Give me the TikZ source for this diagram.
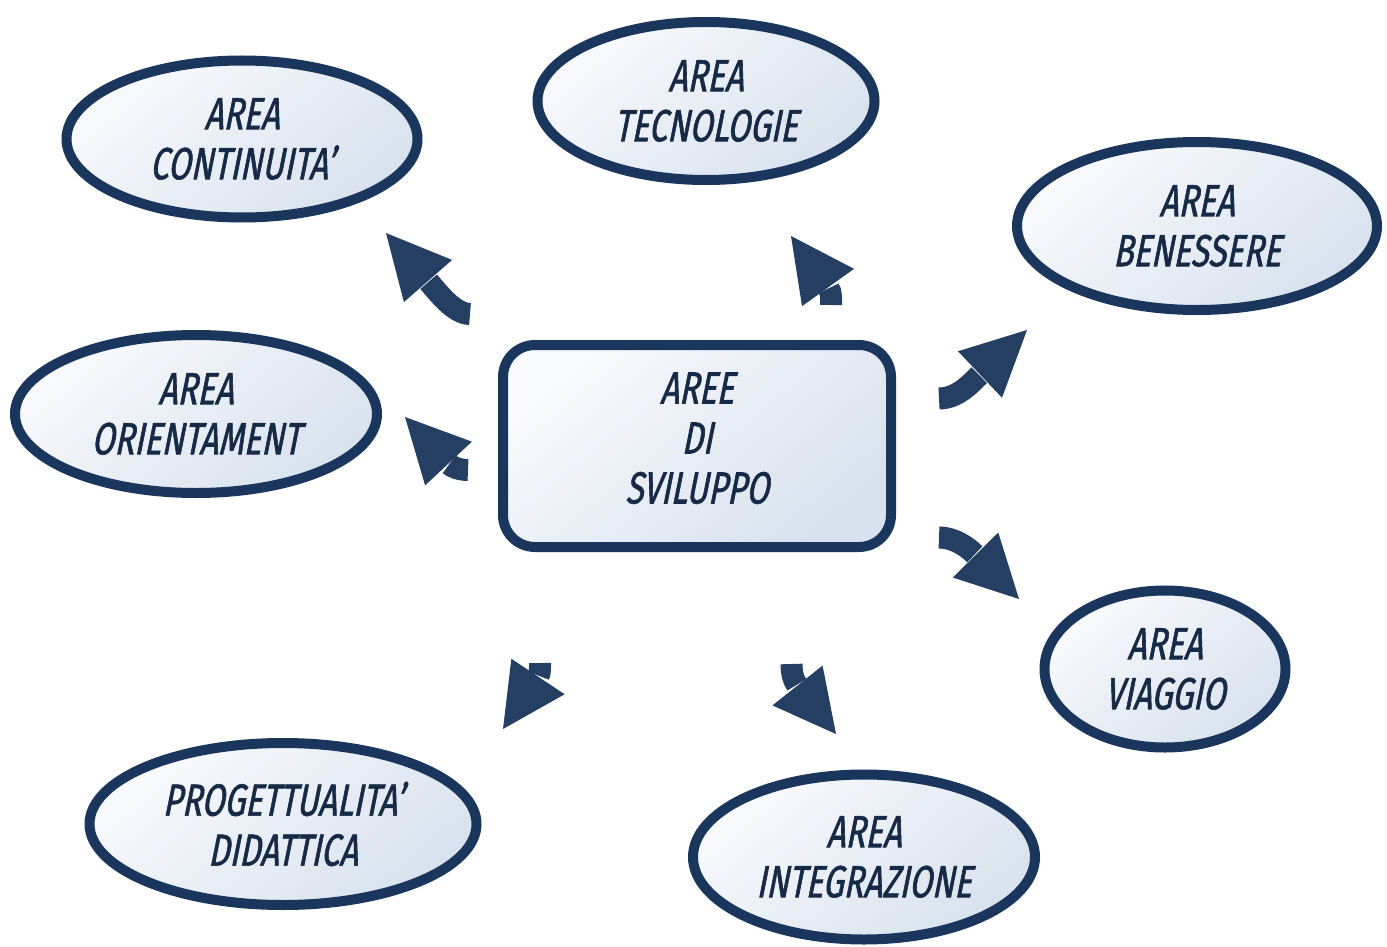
\documentclass[tikz,border=0pt]{standalone}
\usepackage{fontspec}
\usetikzlibrary{shapes.geometric,calc}
\newfontfamily\hand[FakeStretch=0.73,FakeSlant=0.2,FakeBold=1.3]{Fira Sans}
\definecolor{bordercol}{HTML}{1B365D}
\definecolor{arrowcol}{HTML}{243F61}
\definecolor{textcol}{HTML}{172A45}
\definecolor{filltop}{HTML}{F8FAFD}
\definecolor{fillbot}{HTML}{D8E1ED}
\tikzset{
  bubble/.style={ellipse, draw=bordercol, line width=10pt, top color=filltop, bottom color=fillbot, shading angle=40, align=center, text=textcol, font=\hand\fontsize{45}{50}\selectfont, inner sep=0pt},
  centerbox/.style={rectangle, rounded corners=32pt, draw=bordercol, line width=10pt, top color=filltop, bottom color=fillbot, shading angle=40, align=center, text=textcol, font=\hand\fontsize{45}{50}\selectfont, inner sep=0pt, minimum width=388pt, minimum height=202pt},
  arrowbody/.style={draw=arrowcol, line width=22pt},
  arrowhead/.style={fill=arrowcol}
}
% #1 start, #2 first control, #3 base centre, #4 tip, #5 back distance of 2nd control
\newcommand{\bentarrow}[5]{%
  \draw[arrowbody] (#1) .. controls (#2) and ($(#3)!-#5!(#4)$) .. ($(#3)!-1pt!(#4)$);
  \fill[arrowhead] ($(#3)!32pt!90:(#4)$) -- (#4) -- ($(#3)!32pt!-90:(#4)$) -- cycle;}
\begin{document}
\begin{tikzpicture}[x=1pt,y=-1pt]
\useasboundingbox (0,0) rectangle (1387,947);

\node[bubble, minimum width=351pt, minimum height=157pt] (cont) at (242,139) {AREA\\CONTINUITA’};
\node[bubble, minimum width=337pt, minimum height=158pt] (tecn) at (706,101) {AREA\\TECNOLOGIE};
\node[bubble, minimum width=360pt, minimum height=168pt] (ben) at (1197,226) {AREA\\BENESSERE};
\node[bubble, minimum width=362pt, minimum height=158pt] (orient) at (196,414) {AREA\\ORIENTAMENT};
\node[bubble, minimum width=241pt, minimum height=157pt] (viag) at (1165,669) {AREA\\VIAGGIO};
\node[bubble, minimum width=387pt, minimum height=162pt] (prog) at (283,824) {PROGETTUALITA’\\DIDATTICA};
\node[bubble, minimum width=342pt, minimum height=165pt] (integ) at (864,857) {AREA\\INTEGRAZIONE};

\node[centerbox] (center) at (697,446) {AREE\\DI\\SVILUPPO\rule[-16pt]{0pt}{1pt}};

% arrows: start, first control, head base, tip
\coordinate (s1) at (470,314); \coordinate (c1) at (454,314); \coordinate (b1) at (428,281); \coordinate (t1) at (386,233);
\coordinate (s2) at (831,305); \coordinate (c2) at (831,298); \coordinate (b2) at (828,287.5); \coordinate (t2) at (791,236);
\coordinate (s3) at (939,398.5); \coordinate (c3) at (958,398.5); \coordinate (b3) at (980,374.5); \coordinate (t3) at (1027,330);
\coordinate (s4) at (468,470); \coordinate (c4) at (460,470); \coordinate (b4) at (448.5,463.5); \coordinate (t4) at (405,417);
\coordinate (s5) at (939,537.5); \coordinate (c5) at (955,537.5); \coordinate (b5) at (975.5,555); \coordinate (t5) at (1019,599);
\coordinate (s6) at (540,663); \coordinate (c6) at (540,668); \coordinate (b6) at (538,676.5); \coordinate (t6) at (503,729);
\coordinate (s7) at (791.5,664); \coordinate (c7) at (791.5,674); \coordinate (b7) at (797.5,685.5); \coordinate (t7) at (836,734);

\bentarrow{s1}{c1}{b1}{t1}{15pt}
\bentarrow{s2}{c2}{b2}{t2}{6pt}
\bentarrow{s3}{c3}{b3}{t3}{12pt}
\bentarrow{s4}{c4}{b4}{t4}{5pt}
\bentarrow{s5}{c5}{b5}{t5}{10pt}
\bentarrow{s6}{c6}{b6}{t6}{4pt}
\bentarrow{s7}{c7}{b7}{t7}{6pt}
\end{tikzpicture}
\end{document}
